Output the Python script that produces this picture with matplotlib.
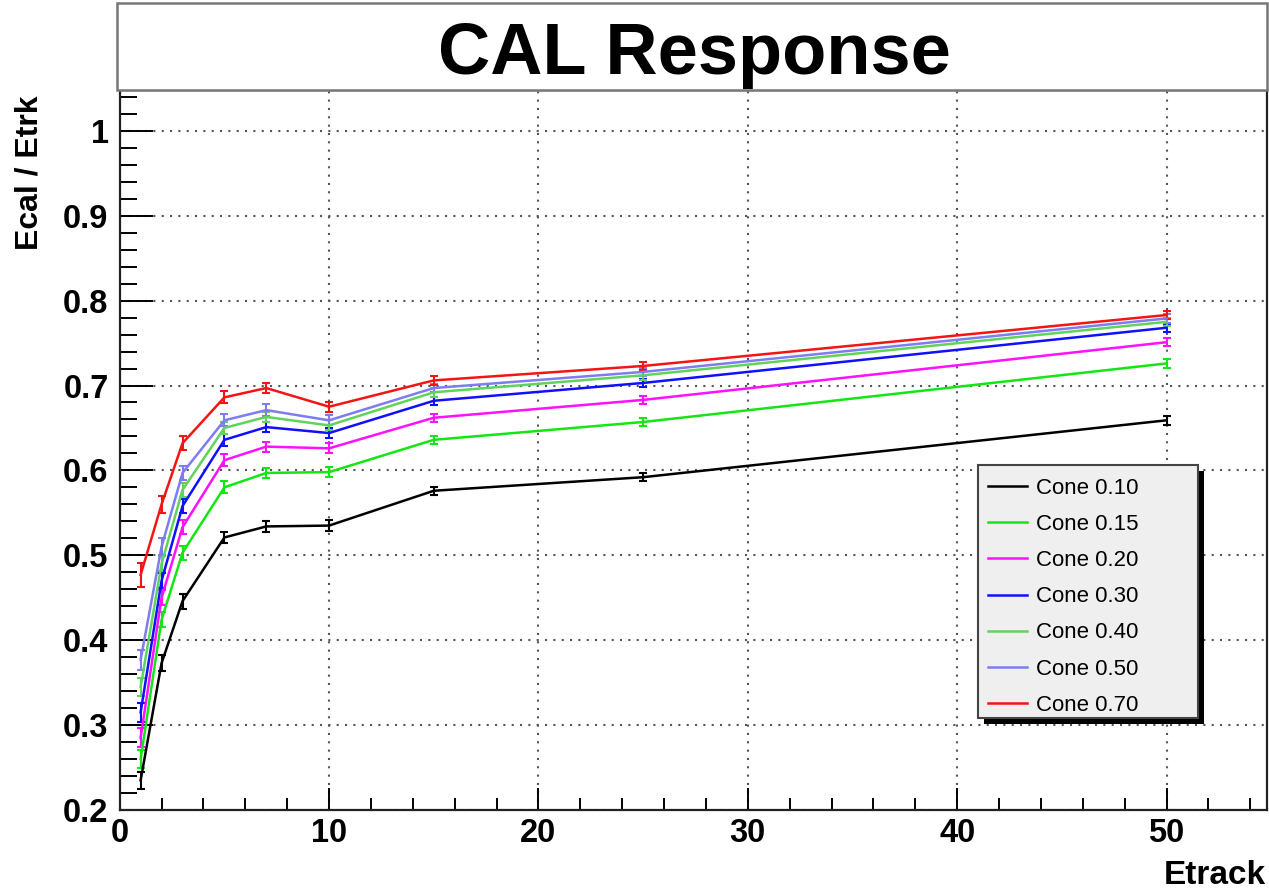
import matplotlib
matplotlib.use("Agg")
import matplotlib.pyplot as plt
from matplotlib.patches import Rectangle
from matplotlib.lines import Line2D
from matplotlib.ticker import MultipleLocator

# ---------------- data ----------------
etrack = [1, 2, 3, 5, 7, 10, 15, 25, 50]

labels = ["Cone 0.10", "Cone 0.15", "Cone 0.20", "Cone 0.30",
          "Cone 0.40", "Cone 0.50", "Cone 0.70"]

c010 = [0.235, 0.373, 0.446, 0.521, 0.534, 0.535, 0.576, 0.592, 0.659]
c015 = [0.260, 0.424, 0.503, 0.580, 0.597, 0.598, 0.636, 0.657, 0.726]
c020 = [0.285, 0.450, 0.533, 0.612, 0.628, 0.626, 0.662, 0.683, 0.751]
c030 = [0.315, 0.470, 0.558, 0.636, 0.651, 0.644, 0.682, 0.703, 0.768]
c040 = [0.345, 0.490, 0.577, 0.650, 0.663, 0.653, 0.692, 0.712, 0.775]
c050 = [0.377, 0.510, 0.597, 0.659, 0.671, 0.659, 0.697, 0.716, 0.779]
c070 = [0.477, 0.560, 0.632, 0.686, 0.697, 0.675, 0.706, 0.723, 0.783]

e010 = [0.010, 0.009, 0.009, 0.006, 0.006, 0.006, 0.005, 0.005, 0.005]
e015 = [0.011, 0.009, 0.008, 0.007, 0.006, 0.006, 0.005, 0.005, 0.005]
e020 = [0.011, 0.009, 0.008, 0.007, 0.006, 0.006, 0.005, 0.005, 0.005]
e030 = [0.011, 0.009, 0.008, 0.007, 0.006, 0.006, 0.005, 0.005, 0.005]
e040 = [0.011, 0.009, 0.008, 0.007, 0.006, 0.006, 0.005, 0.005, 0.005]
e050 = [0.012, 0.010, 0.008, 0.007, 0.007, 0.006, 0.005, 0.005, 0.005]
e070 = [0.014, 0.010, 0.008, 0.007, 0.006, 0.006, 0.005, 0.005, 0.005]

series = [c010, c015, c020, c030, c040, c050, c070]
errors = [e010, e015, e020, e030, e040, e050, e070]
colors = ["#000000", "#14e614", "#ff10ff", "#1010ff", "#5ed45a", "#7e7cf0", "#f51414"]

# ---------------- figure ----------------
W, H = 1269, 894
fig = plt.figure(figsize=(W / 100, H / 100), dpi=100)
fig.patch.set_facecolor("white")
plt.rcParams["font.family"] = ["Liberation Sans", "DejaVu Sans"]

def fx(px):
    return px / W

def fy(py):
    return 1 - py / H

left, right, top, bottom = 119.7, 1267, 90, 810
ax = fig.add_axes([fx(left), fy(bottom), fx(right - left), (bottom - top) / H])

for y, e, c in zip(series, errors, colors):
    ax.errorbar(etrack, y, yerr=e, color=c, lw=1.8, elinewidth=1.5,
                capsize=3, capthick=1.5)

ax.set_xlim(0, 54.8)
ax.set_ylim(0.2, 0.2 + (bottom - top) / 849.0)

ax.xaxis.set_major_locator(MultipleLocator(10))
ax.xaxis.set_minor_locator(MultipleLocator(2))
ax.yaxis.set_major_locator(MultipleLocator(0.1))
ax.yaxis.set_minor_locator(MultipleLocator(0.02))
ax.yaxis.set_major_formatter(plt.FuncFormatter(lambda v, p: ("%g" % round(v, 2))))

ax.tick_params(axis="y", which="major", direction="in", length=24, width=1.4,
               labelsize=23.5, pad=8)
ax.tick_params(axis="y", which="minor", direction="in", length=12, width=1.4)
ax.tick_params(axis="x", which="major", direction="in", length=16, width=1.4,
               labelsize=23.5, pad=6)
ax.tick_params(axis="x", which="minor", direction="in", length=8.5, width=1.4)
for lbl in ax.get_xticklabels() + ax.get_yticklabels():
    lbl.set_fontweight("bold")

ax.grid(True, which="major", linestyle=(0, (1, 3)), linewidth=1.5, color="#555555")
ax.set_axisbelow(True)
for s in ax.spines.values():
    s.set_linewidth(1.6)
    s.set_color("#222222")

# title box
fig.patches.append(Rectangle((fx(117), fy(90)), fx(1267 - 117), (90 - 3) / H,
                             transform=fig.transFigure, facecolor="white",
                             edgecolor="#777777", linewidth=1.8, zorder=0))
fig.text(fx(694), fy(55), "CAL Response", ha="center", va="center",
         fontsize=52, fontweight="bold")

# axis titles
fig.text(fx(30), fy(95), "Ecal / Etrk", rotation=90, ha="center", va="top",
         fontsize=23, fontweight="bold")
fig.text(fx(1266), fy(875), "Etrack", ha="right", va="center",
         fontsize=24, fontweight="bold")

# legend box with black shadow
lx0, ly0, lx1, ly1 = 978, 465, 1198, 718
ax.add_patch(Rectangle((fx(lx0 + 6), fy(ly1 + 6)), fx(lx1 - lx0), (ly1 - ly0) / H,
                       transform=fig.transFigure, facecolor="black",
                       edgecolor="none", zorder=9, clip_on=False))
ax.add_patch(Rectangle((fx(lx0), fy(ly1)), fx(lx1 - lx0), (ly1 - ly0) / H,
                       transform=fig.transFigure, facecolor="#efefef",
                       edgecolor="#444444", linewidth=1.5, zorder=9.5,
                       clip_on=False))

handles = [Line2D([0], [0], color=c, lw=1.8) for c in colors]
leg = ax.legend(handles, labels, loc="upper left",
                bbox_to_anchor=(fx(988), fy(478)),
                bbox_transform=fig.transFigure, borderaxespad=0, borderpad=0,
                fontsize=16, handlelength=1.75, handletextpad=0.4,
                labelspacing=0.68, frameon=False)
leg.set_zorder(10)

fig.savefig("out.png", dpi=100)
